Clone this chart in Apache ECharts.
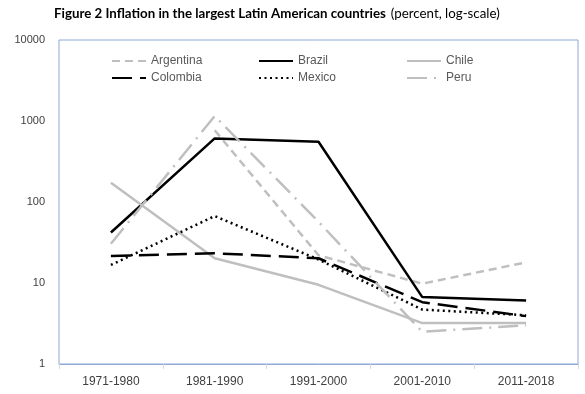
<!DOCTYPE html>
<html>
<head>
<meta charset="utf-8">
<script src="https://cdn.jsdelivr.net/npm/echarts@6/dist/echarts.min.js"></script>
<style>html,body{margin:0;padding:0;background:#fff}#c{width:585px;height:394px}</style>
</head>
<body>
<div id="c"></div>
<script>
var categories = ['1971-1980', '1981-1990', '1991-2000', '2001-2010', '2011-2018'];
var argentina = [null, 770, 22, 9.8, 18];
var brazil = [42, 610, 555, 6.7, 6.1];
var chile = [173, 20.2, 9.5, 3.2, 3.2];
var colombia = [21.5, 23.3, 20.2, 5.8, 3.9];
var mexico = [16.7, 67, 19.5, 4.7, 4.0];
var peru = [30.5, 1150, 57, 2.5, 3.0];
var yTicks = [1, 10, 100, 1000, 10000];
var legendCols = [['Argentina', 'Colombia'], ['Brazil', 'Mexico'], ['Chile', 'Peru']];

var GRAY = '#BFBFBF', BLACK = '#000000';
var W = 2.5;
function mk(name, data, color, type) {
  return {
    name: name, type: 'line', data: data, symbol: 'none', connectNulls: false,
    lineStyle: { color: color, width: W, type: type },
    itemStyle: { color: color }
  };
}
var legendLefts = [106, 253, 401];
var legends = legendCols.map(function (names, i) {
  return {
    orient: 'vertical', left: legendLefts[i], top: 50,
    itemWidth: 34, itemHeight: 12, itemGap: 5,
    itemStyle: { opacity: 0 },
    textStyle: { color: '#595959', fontFamily: 'Liberation Sans', fontSize: 12 },
    data: names
  };
});
var chart = echarts.init(document.getElementById('c'), null, { renderer: 'canvas' });
chart.setOption({
  animation: false,
  backgroundColor: '#ffffff',
  title: {
    left: 49, top: 0,
    text: '{b|Figure 2 Inflation in the largest Latin American countries} {n|(percent, log-scale)}',
    textStyle: {
      rich: {
        b: { fontFamily: 'Lato', fontWeight: 'bold', fontSize: 13.3, color: '#000' },
        n: { fontFamily: 'Lato', fontWeight: 'normal', fontSize: 13.3, color: '#000' }
      }
    }
  },
  legend: legends,
  grid: { left: 59, top: 40, right: 7, bottom: 30, show: true, borderColor: '#8EA9D6', borderWidth: 1 },
  xAxis: {
    type: 'category', data: categories, boundaryGap: true,
    axisLine: { show: true, lineStyle: { color: '#8EA9D6' } },
    axisTick: { show: true, length: 5, lineStyle: { color: '#D9D9D9' } },
    axisLabel: { color: '#404040', fontFamily: 'Liberation Sans', fontSize: 12, margin: 12 }
  },
  yAxis: {
    type: 'log', logBase: 10, min: yTicks[0], max: yTicks[yTicks.length - 1],
    axisLine: { show: false }, axisTick: { show: false }, splitLine: { show: false },
    axisLabel: { color: '#404040', fontFamily: 'Liberation Sans', fontSize: 11, margin: 14,
      formatter: function (v) { return String(Math.round(v)); } }
  },
  series: [
    mk('Argentina', argentina, GRAY, [8, 5]),
    mk('Brazil', brazil, BLACK, 'solid'),
    mk('Chile', chile, GRAY, 'solid'),
    mk('Colombia', colombia, BLACK, [20, 8]),
    mk('Mexico', mexico, BLACK, [2, 3.5]),
    mk('Peru', peru, GRAY, [20, 7, 2, 7])
  ]
});
</script>
</body>
</html>
